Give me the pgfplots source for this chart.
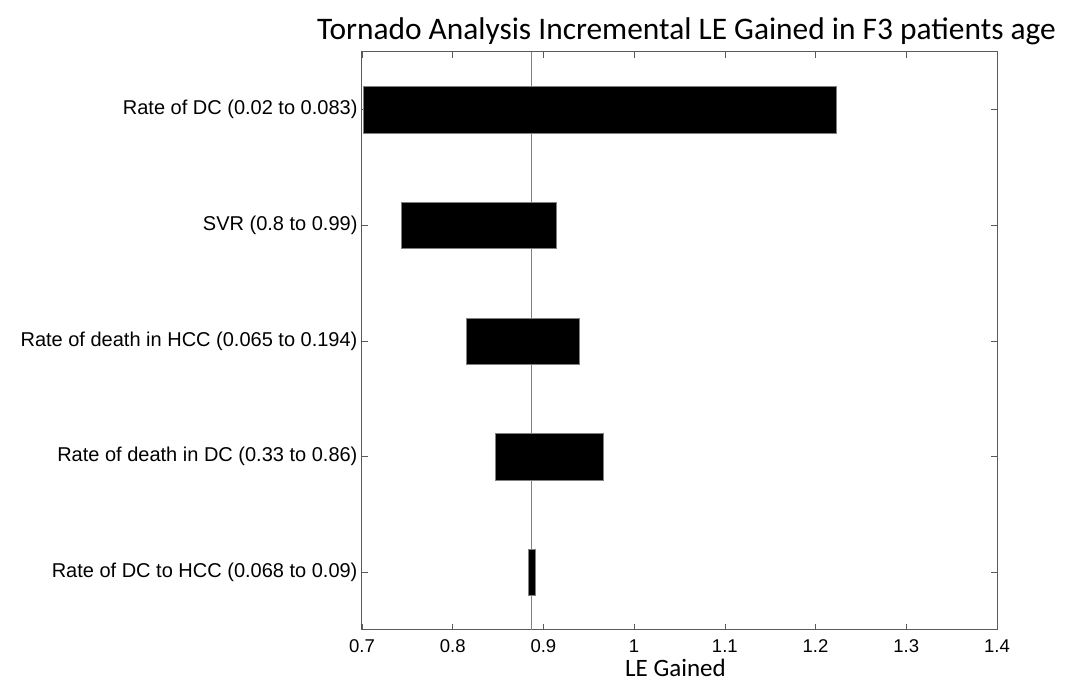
\documentclass[border=0pt]{standalone}
\usepackage{pgfplots}
\pgfplotsset{compat=1.18}
\usepackage{fontspec}
\setmainfont{Liberation Sans}
\newfontfamily\calib{Carlito}
\definecolor{axgray}{RGB}{90,90,90}
\begin{document}
\begin{tikzpicture}[x=1pt,y=1pt]
\useasboundingbox (0,0) rectangle (1074,688);
\begin{axis}[
  at={(362pt,58pt)}, anchor=south west,
  scale only axis,
  width=635pt, height=578pt,
  xmin=0.7, xmax=1.4, ymin=0.5, ymax=5.5,
  xtick={0.7,0.8,0.9,1,1.1,1.2,1.3,1.4},
  xticklabels={0.7,0.8,0.9,1,1.1,1.2,1.3,1.4},
  ytick={1,2,3,4,5},
  yticklabels={Rate of DC to HCC (0.068 to 0.09),Rate of death in DC (0.33 to 0.86),Rate of death in HCC (0.065 to 0.194),SVR (0.8 to 0.99),Rate of DC (0.02 to 0.083)},
  tick align=inside,
  major tick length=6pt,
  tick style={axgray, line width=0.6pt},
  axis line style={axgray, line width=1pt},
  xticklabel style={font=\fontsize{18.5}{20}\selectfont, yshift=-6pt},
  yticklabel style={font=\fontsize{20}{22}\selectfont, xshift=-1pt},
  xlabel={LE Gained},
  xlabel style={font=\calib\fontsize{25}{27}\selectfont, xshift=-4pt, yshift=0pt},
  title={Tornado Analysis Incremental LE Gained in F3 patients age},
  title style={font=\calib\fontsize{31.4}{33}\selectfont, xshift=7pt, yshift=-2pt},
  clip=true,
]
\addplot[gray, line width=0.8pt] coordinates {(0.8866,0.5) (0.8866,5.5)};
\addplot[fill=black, draw=gray, line width=0.4pt] coordinates {(0.701,4.8) (1.223,4.8) (1.223,5.2) (0.701,5.2)} --cycle;
\addplot[fill=black, draw=gray, line width=0.4pt] coordinates {(0.743,3.8) (0.914,3.8) (0.914,4.2) (0.743,4.2)} --cycle;
\addplot[fill=black, draw=gray, line width=0.4pt] coordinates {(0.815,2.8) (0.939,2.8) (0.939,3.2) (0.815,3.2)} --cycle;
\addplot[fill=black, draw=gray, line width=0.4pt] coordinates {(0.8465,1.8) (0.9654,1.8) (0.9654,2.2) (0.8465,2.2)} --cycle;
\addplot[fill=black, draw=gray, line width=0.4pt] coordinates {(0.883,0.8) (0.8905,0.8) (0.8905,1.2) (0.883,1.2)} --cycle;
\end{axis}
\end{tikzpicture}
\end{document}
